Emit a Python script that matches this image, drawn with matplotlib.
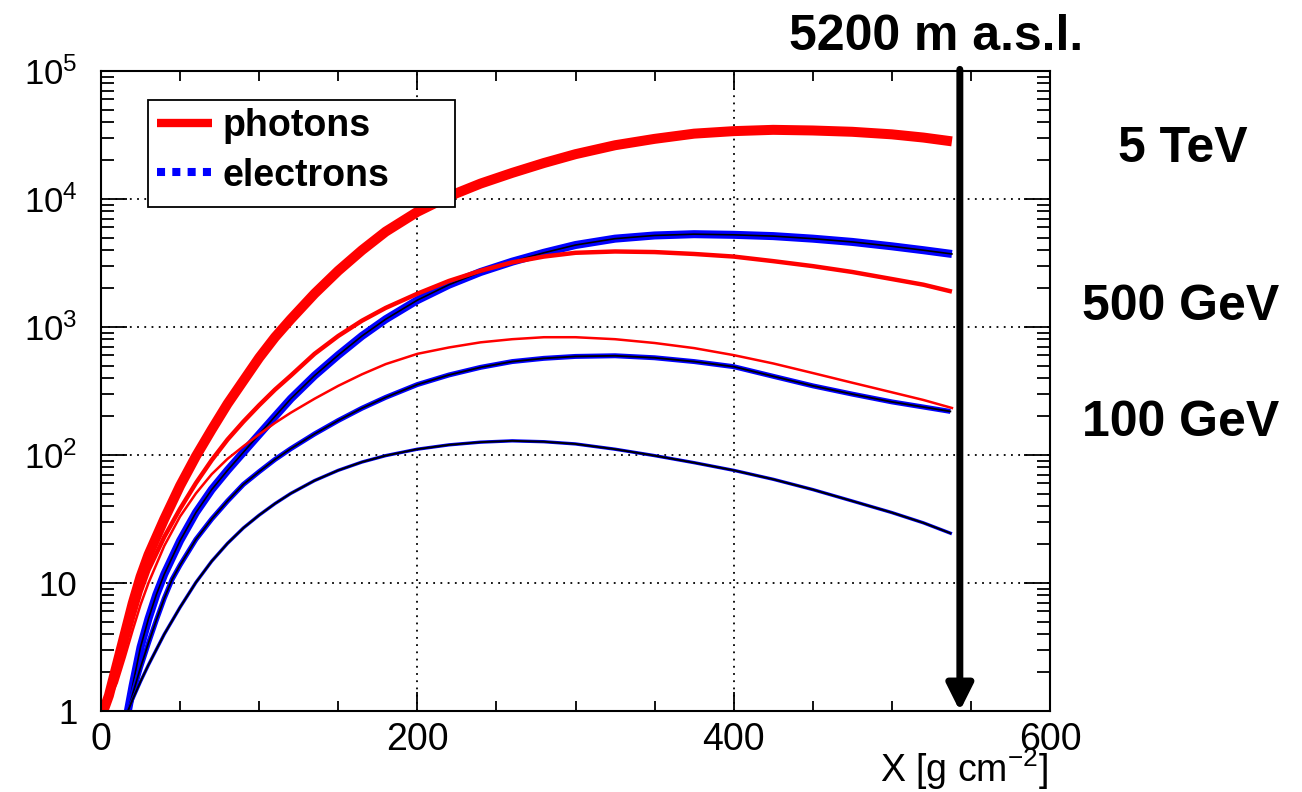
import matplotlib
matplotlib.use("Agg")
import matplotlib.pyplot as plt
from matplotlib.patches import Rectangle
from matplotlib.ticker import LogLocator, FixedLocator, NullFormatter, FixedFormatter

plt.rcParams['font.family'] = ['Liberation Sans', 'DejaVu Sans']
plt.rcParams['mathtext.fontset'] = 'custom'
plt.rcParams['mathtext.rm'] = 'Liberation Sans'
plt.rcParams['mathtext.it'] = 'Liberation Sans'

# photons: 5 TeV / 500 GeV / 100 GeV
ph_x = [1.5, 5, 10, 15, 20, 25, 30, 40, 50, 60, 70, 80, 90, 100, 110, 120, 135, 150, 165, 180,
        200, 220, 240, 260, 280, 300, 325, 350, 375, 400, 425, 450, 475, 500, 520, 538]
ph5_y = [1, 1.32, 2.29, 3.98, 6.92, 11.2, 16.6, 31.6, 57.5, 97.7, 158, 251, 380, 575, 832, 1150,
         1820, 2750, 3980, 5560, 7940, 10500, 13200, 16000, 19100, 22400, 26300, 29500, 32400,
         33900, 34700, 34300, 33500, 32000, 30200, 28200]
ph05_y = [1, 1.26, 1.91, 3.16, 5.25, 8.51, 12.6, 22.9, 38.0, 60.3, 91.2, 132, 182, 245, 324, 417,
          617, 851, 1120, 1410, 1820, 2290, 2750, 3200, 3550, 3800, 3890, 3850, 3720, 3550, 3270,
          2990, 2690, 2370, 2140, 1890]
ph01_y = [1, 1.2, 1.66, 2.63, 4.27, 6.76, 10, 19.5, 33.1, 50.1, 70.8, 93.3, 117, 145, 178, 214,
          275, 347, 427, 513, 617, 692, 759, 803, 832, 832, 803, 750, 684, 603, 519, 437, 367,
          309, 269, 233]

# electrons: 5 TeV / 500 GeV / 100 GeV
el5_x = [17, 20, 25, 30, 35, 40, 50, 60, 70, 80, 90, 100, 110, 120, 135, 150, 165, 180, 200, 220,
         240, 260, 280, 300, 325, 350, 375, 400, 425, 450, 475, 500, 520, 538]
el5_y = [1, 1.58, 3.16, 5.25, 8.13, 11.7, 21.4, 35.5, 53.7, 75.9, 105, 145, 200, 275, 417, 603,
         851, 1150, 1620, 2140, 2690, 3240, 3800, 4370, 4900, 5190, 5310, 5250, 5130, 4900, 4620,
         4270, 3980, 3720]

el05_x = [17, 20, 25, 30, 35, 40, 45, 50, 60, 70, 80, 90, 100, 110, 120, 135, 150, 165, 180, 200,
          220, 240, 260, 280, 300, 325, 350, 375, 400, 425, 450, 475, 500, 520, 537]
el05_y = [1, 1.35, 2.19, 3.39, 5.13, 7.59, 10.7, 13.8, 21.9, 31.6, 43.7, 58.9, 74.1, 92.3, 112,
          146, 186, 232, 282, 355, 422, 484, 537, 569, 589, 596, 575, 537, 490, 412, 347, 299,
          260, 237, 219]

el01_x = [17, 20, 25, 30, 35, 40, 50, 60, 70, 80, 90, 100, 110, 120, 135, 150, 165, 180, 200, 220,
          240, 260, 280, 300, 325, 350, 375, 400, 425, 450, 475, 500, 520, 537]
el01_y = [1, 1.23, 1.70, 2.29, 3.02, 3.98, 6.46, 10.1, 14.8, 20.4, 26.9, 33.9, 41.7, 50.1, 63.1,
          75.9, 88.1, 98.9, 111, 120, 126, 129, 127, 122, 111, 98.9, 87.1, 75.9, 64.6, 53.7,
          43.7, 35.5, 29.5, 24.5]

x_ticks = [0, 200, 400, 600]
y_ticks = [1, 10, 100, 1000, 10000, 100000]
y_labels = ['1', '10', '$10^{2}$', '$10^{3}$', '$10^{4}$', '$10^{5}$']

fig = plt.figure(figsize=(13.02, 7.92), dpi=100)
ax = fig.add_axes([101/1302, 1-711/792, 949/1302, 640/792])

ax.plot(ph_x, ph5_y, color='red', lw=7.2, solid_capstyle='butt')
ax.plot(el5_x, el5_y, color='blue', lw=5.8, solid_capstyle='butt')
ax.plot(el5_x, el5_y, color='black', lw=1.2)
ax.plot(ph_x, ph05_y, color='red', lw=3.2, solid_capstyle='butt')
ax.plot(el05_x, el05_y, color='blue', lw=3.6, solid_capstyle='butt')
ax.plot(el05_x, el05_y, color='black', lw=1.3)
ax.plot(ph_x, ph01_y, color='red', lw=1.8)
ax.plot(el01_x, el01_y, color='blue', lw=2.4)
ax.plot(el01_x, el01_y, color='black', lw=1.4)

# legend: white box with frame, entries on top
ax.add_patch(Rectangle((0.0495, 0.7875), 0.3235, 0.167, transform=ax.transAxes,
                       facecolor='white', edgecolor='black', lw=1.3, zorder=5))
h1, = ax.plot([], [], color='red', lw=6, solid_capstyle='butt')
h2, = ax.plot([], [], color='blue', lw=5.8, linestyle=(0, (1, 0.9)), dash_capstyle='butt')
leg = ax.legend([h1, h2], ['photons', 'electrons'], loc='upper left',
                bbox_to_anchor=(0.059, 0.942), prop={'weight': 'bold', 'size': 27},
                frameon=False, borderaxespad=0, borderpad=0, handlelength=1.47,
                handletextpad=0.27, labelspacing=0.36)
leg.set_zorder(6)

ax.set_yscale('log')
ax.set_xlim(0, 600)
ax.set_ylim(1, 1e5)

ax.xaxis.set_major_locator(FixedLocator(x_ticks))
ax.xaxis.set_minor_locator(FixedLocator(list(range(0, 601, 50))))
ax.yaxis.set_major_locator(FixedLocator(y_ticks))
ax.yaxis.set_major_formatter(FixedFormatter(y_labels))
ax.yaxis.set_minor_locator(LogLocator(base=10, subs=range(2, 10)))
ax.yaxis.set_minor_formatter(NullFormatter())

ax.tick_params(which='both', direction='in', top=True, right=True, width=1.3)
ax.tick_params(axis='x', which='major', length=14, labelsize=27, pad=8)
ax.tick_params(axis='x', which='minor', length=7)
ax.tick_params(axis='y', which='major', length=19, labelsize=25, pad=17)
ax.tick_params(axis='y', which='minor', length=9.5)

ax.grid(True, which='major', color='black', linestyle=(0, (1, 3)), lw=1.3)
for s in ax.spines.values():
    s.set_linewidth(1.5)

ax.annotate('', xy=(543, 1), xytext=(543, 1.03e5), annotation_clip=False,
            arrowprops=dict(arrowstyle='-|>', lw=5, color='black', mutation_scale=40,
                            shrinkA=0, shrinkB=0))

fig.text(1048/1302, 1-782/792, 'X [g cm$^{-2}$]', ha='right', va='baseline', fontsize=27)
fig.text(936/1302, 1-50/792, '5200 m a.s.l.', ha='center', va='baseline', fontsize=36, fontweight='bold')
fig.text(1183/1302, 1-162/792, '5 TeV', ha='center', va='baseline', fontsize=36, fontweight='bold')
fig.text(1181/1302, 1-320/792, '500 GeV', ha='center', va='baseline', fontsize=36, fontweight='bold')
fig.text(1181/1302, 1-436/792, '100 GeV', ha='center', va='baseline', fontsize=36, fontweight='bold')

fig.savefig('out.png', dpi=100)
